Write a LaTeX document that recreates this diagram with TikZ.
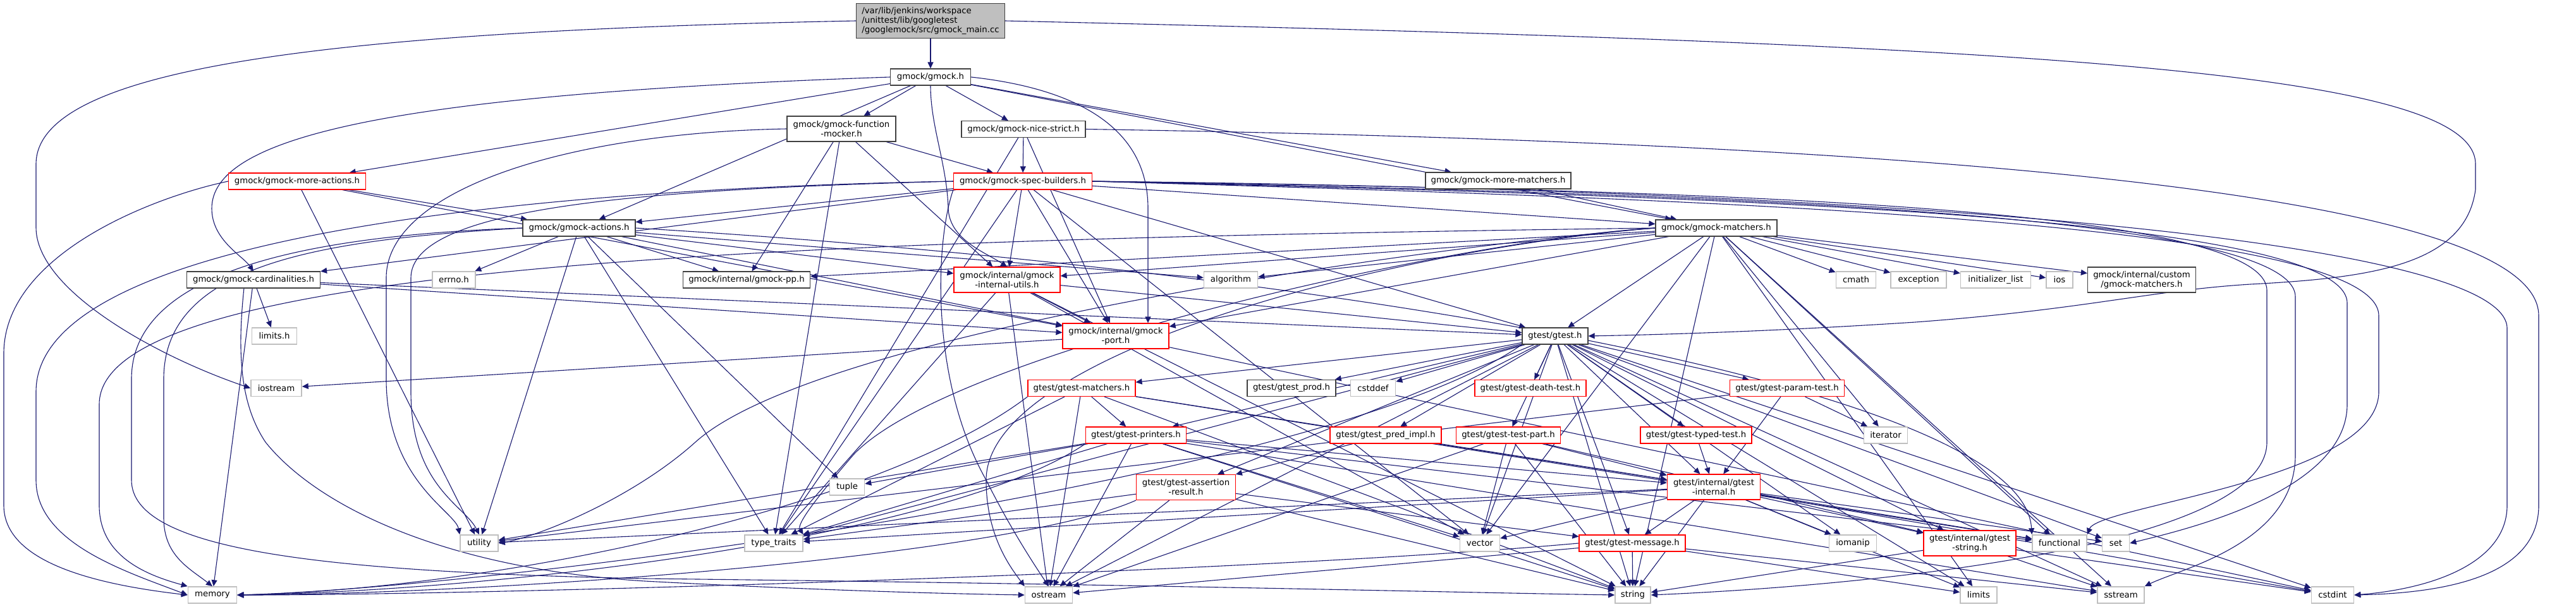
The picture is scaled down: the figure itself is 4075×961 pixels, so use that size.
\documentclass[tikz,border=0pt]{standalone}
\usepackage{fontspec}
\setmainfont{DejaVu Sans}
\usetikzlibrary{arrows.meta}
\definecolor{edgec}{HTML}{191970}
\definecolor{leafc}{HTML}{BFBFBF}
\definecolor{blkc}{HTML}{404040}
\definecolor{mainfill}{HTML}{BFBFBF}
\pgfdeclarelayer{bg}
\pgfsetlayers{bg,main}
\begin{document}
\begin{tikzpicture}[x=1pt,y=-1pt,
  nd/.style={fill=white, inner sep=0pt, minimum height=26pt, align=center,
             font=\fontsize{13.3}{15}\selectfont, line width=1.2pt},
  bnd/.style={nd, draw=blkc},
  rnd/.style={nd, draw=red},
  lnd/.style={nd, draw=leafc, line width=1.6pt},
  two/.style={minimum height=40pt},
  dep/.style={draw=edgec, line width=1.1pt, -{Triangle[length=10pt,width=9pt]}}]
\useasboundingbox (0,0) rectangle (4075,961);
% nodes
\node[bnd, fill=mainfill, align=left, minimum width=235pt, minimum height=55pt] (M) at (1472,33)
  {/var/lib/jenkins/workspace\\/unittest/lib/googletest\\/googlemock/src/gmock\_main.cc};
\node[bnd, minimum width=127pt] (G) at (1472,122) {gmock/gmock.h};
\node[bnd, two, minimum width=172pt] (FM) at (1331,204) {gmock/gmock-function\\-mocker.h};
\node[bnd, minimum width=196pt] (NS) at (1619,204.5) {gmock/gmock-nice-strict.h};
\node[rnd, minimum width=217pt] (MA) at (470,287) {gmock/gmock-more-actions.h};
\node[rnd, minimum width=219pt] (SB) at (1618,287) {gmock/gmock-spec-builders.h};
\node[bnd, minimum width=230pt] (MM) at (2370,286) {gmock/gmock-more-matchers.h};
\node[bnd, minimum width=178pt] (ACT) at (916,361) {gmock/gmock-actions.h};
\node[bnd, minimum width=192pt] (MAT) at (2715,361) {gmock/gmock-matchers.h};
\node[bnd, minimum width=211pt] (CARD) at (401,443) {gmock/gmock-cardinalities.h};
\node[lnd, minimum width=68pt] (ERRNO) at (718,443) {errno.h};
\node[bnd, minimum width=201pt] (PP) at (1181,443) {gmock/internal/gmock-pp.h};
\node[rnd, two, minimum width=168pt] (IU) at (1593,443) {gmock/internal/gmock\\-internal-utils.h};
\node[lnd, minimum width=85pt] (ALG) at (1947,443) {algorithm};
\node[lnd, minimum width=63pt] (CMATH) at (2936,443) {cmath};
\node[lnd, minimum width=88pt] (EXC) at (3035,443) {exception};
\node[lnd, minimum width=111pt] (INIT) at (3157,443) {initializer\_list};
\node[lnd, minimum width=42pt] (IOS) at (3258,443) {ios};
\node[bnd, two, minimum width=171pt] (CUSTOM) at (3388,443) {gmock/internal/custom\\/gmock-matchers.h};
\node[lnd, minimum width=71pt] (LIMH) at (434,532) {limits.h};
\node[rnd, two, minimum width=168pt] (PORT) at (1765,532) {gmock/internal/gmock\\-port.h};
\node[bnd, minimum width=104pt] (GT) at (2460,532) {gtest/gtest.h};
\node[lnd, minimum width=80pt] (IOSTREAM) at (437,614.5) {iostream};
\node[rnd, minimum width=170pt] (GTM) at (1711,614.5) {gtest/gtest-matchers.h};
\node[bnd, minimum width=140pt] (PROD) at (2043,614.5) {gtest/gtest\_prod.h};
\node[lnd, minimum width=71pt] (CSTDDEF) at (2172,614.5) {cstddef};
\node[rnd, minimum width=176pt] (DEATH) at (2421,614.5) {gtest/gtest-death-test.h};
\node[rnd, minimum width=181pt] (PARAM) at (2827,614.5) {gtest/gtest-param-test.h};
\node[rnd, minimum width=159pt] (PRINT) at (1797,689) {gtest/gtest-printers.h};
\node[rnd, minimum width=176pt] (PRED) at (2192,689) {gtest/gtest\_pred\_impl.h};
\node[rnd, minimum width=165pt] (TP) at (2386,689) {gtest/gtest-test-part.h};
\node[rnd, minimum width=176pt] (TYPED) at (2683,689) {gtest/gtest-typed-test.h};
\node[lnd, minimum width=69pt] (ITER) at (2983,689) {iterator};
\node[lnd, minimum width=55pt] (TUPLE) at (1340,771) {tuple};
\node[rnd, two, minimum width=157pt] (AR) at (1876,771.5) {gtest/gtest-assertion\\-result.h};
\node[rnd, two, minimum width=147pt] (GI) at (2711,771) {gtest/internal/gtest\\-internal.h};
\node[lnd, minimum width=60pt] (UTIL) at (758,860) {utility};
\node[lnd, minimum width=92pt] (TT) at (1224,860) {type\_traits};
\node[lnd, minimum width=63pt] (VEC) at (2341,860) {vector};
\node[rnd, minimum width=168pt] (MSG) at (2582,860) {gtest/gtest-message.h};
\node[lnd, minimum width=75pt] (IOMANIP) at (2931,860) {iomanip};
\node[rnd, two, minimum width=146pt] (GS) at (3116,860) {gtest/internal/gtest\\-string.h};
\node[lnd, minimum width=86pt] (FUNC) at (3258,860) {functional};
\node[lnd, minimum width=43pt] (SET) at (3347,860) {set};
\node[lnd, minimum width=77pt] (MEM) at (336,942) {memory};
\node[lnd, minimum width=75pt] (OSTREAM) at (1659,942) {ostream};
\node[lnd, minimum width=56pt] (STR) at (2583,942) {string};
\node[lnd, minimum width=58pt] (LIMITS) at (3130,942) {limits};
\node[lnd, minimum width=74pt] (SSTREAM) at (3355,942) {sstream};
\node[lnd, minimum width=67pt] (CSTDINT) at (3690,942) {cstdint};
% edges
\begin{pgfonlayer}{bg}
% main
\draw[dep] (M) -- (G);
\draw[dep] (M.west) .. controls (500,50) and (57,110) .. (57,260) -- (57,360)
   .. controls (57,460) and (250,565) .. (IOSTREAM.west);
\draw[dep] (M.east) .. controls (3200,70) and (3916,110) .. (3916,260) -- (3916,300)
   .. controls (3900,420) and (3750,440) .. (3560,450)
   .. controls (3400,460) and (3300,490) .. (3030,510)
   .. controls (2800,525) and (2620,530) .. (GT.east);
% gmock.h
\foreach \t in {ACT,MAT,MA,MM,NS,FM} \draw[dep] (G) -- (\t);
\draw[dep] (G.west) .. controls (600,150) and (335,220) .. (335,330)
   .. controls (335,380) and (384,405) .. (CARD.north);
\draw[dep] (G.south) .. controls (1472,200) and (1498,260) .. (1500,330)
   .. controls (1502,380) and (1560,400) .. (IU.north);
\draw[dep] (G.east) .. controls (1700,140) and (1816,200) .. (1816,330) -- (PORT.north -| 1816,0);
% function-mocker
\foreach \t in {TT,SB,IU,PP} \draw[dep] (FM) -- (\t);
\draw[dep] (FM.west) .. controls (900,210) and (611,300) .. (611,440) -- (611,600)
   .. controls (611,760) and (720,810) .. (UTIL.north west);
% nice-strict
\foreach \t in {TT,SB,PORT} \draw[dep] (NS) -- (\t);
\draw[dep] (NS.east) .. controls (3000,225) and (4016,300) .. (4016,500) -- (4016,800)
   .. controls (4016,900) and (3900,938) .. (CSTDINT.east);
% more-actions
\foreach \t in {UTIL,ACT,PORT} \draw[dep] (MA) -- (\t);
\draw[dep] (MA.west) .. controls (250,310) and (6,400) .. (6,560) -- (6,800)
   .. controls (6,890) and (150,925) .. (MEM.west);
% spec-builders
\foreach \t in {VEC,ACT,CARD,MAT,IU,PORT,GT,TT} \draw[dep] (SB) -- (\t);
\draw[dep] (SB.south west) .. controls (1480,380) and (1470,600) .. (1560,760)
   .. controls (1600,840) and (1640,900) .. (OSTREAM.north);
\draw[dep] (SB.west) .. controls (1000,300) and (650,330) .. (650,440) -- (650,620)
   .. controls (650,770) and (735,800) .. (UTIL.north);
\draw[dep] (SB.west) .. controls (800,300) and (57,380) .. (57,620) -- (57,760)
   .. controls (57,860) and (200,905) .. (MEM.west);
\draw[dep] (SB.east) .. controls (3000,300) and (3966,380) .. (3966,520) -- (3966,800)
   .. controls (3966,890) and (3850,932) .. (CSTDINT.east);
\draw[dep] (SB.east) .. controls (2600,300) and (3586,320) .. (3586,460) -- (3586,700)
   .. controls (3586,860) and (3000,925) .. (STR.east);
\draw[dep] (SB.east) .. controls (2600,305) and (3631,330) .. (3631,470) -- (3631,720)
   .. controls (3631,860) and (3450,900) .. (SSTREAM.north east);
\draw[dep] (SB.east) .. controls (2700,310) and (3713,340) .. (3713,480) -- (3713,640)
   .. controls (3713,780) and (3450,840) .. (SET.east);
\draw[dep] (SB.east) .. controls (2700,315) and (3763,350) .. (3763,500) -- (3763,620)
   .. controls (3763,760) and (3320,800) .. (FUNC.north east);
% more-matchers
\draw[dep] (MM) -- (MAT);
% actions
\foreach \t in {ERRNO,ALG,TUPLE,TT,UTIL,IU,PORT,PP} \draw[dep] (ACT) -- (\t);
\draw[dep] (ACT.east) .. controls (2000,420) and (3200,600) .. (FUNC.north west);
\draw[dep] (ACT.west) .. controls (500,380) and (259,420) .. (259,600) -- (259,820)
   .. controls (259,880) and (300,900) .. (MEM.north);
\draw[dep] (ACT.west) .. controls (420,375) and (208,450) .. (208,600) -- (208,760)
   .. controls (208,870) and (500,905) .. (1020,916)
   .. controls (1800,925) and (2300,938) .. (STR.west);
% cardinalities
\foreach \t in {LIMH,MEM,PORT,GT} \draw[dep] (CARD) -- (\t);
\draw[dep] (386,456) .. controls (375,560) and (380,640) .. (420,700)
   .. controls (500,800) and (700,900) .. (1020,920)
   .. controls (1300,935) and (1500,940) .. (OSTREAM.west);
% matchers
\foreach \t in {ALG,CMATH,EXC,FUNC,INIT,IOS,ITER,LIMITS,SSTREAM,STR,VEC,IU,PORT,PP,GT,CUSTOM} \draw[dep] (MAT) -- (\t);
\draw[dep] (MAT.west) .. controls (2300,380) and (1500,560) .. (1350,720)
   .. controls (1290,790) and (1260,830) .. (TT.north east);
\draw[dep] (MAT.west) .. controls (2300,385) and (1300,520) .. (1100,700)
   .. controls (1000,790) and (850,850) .. (UTIL.east);
\draw[dep] (MAT.west) .. controls (2200,395) and (1560,560) .. (1560,760)
   .. controls (1560,850) and (1600,900) .. (OSTREAM.north west);
\draw[dep] (MAT.west) .. controls (1200,380) and (157,420) .. (157,640) -- (157,800)
   .. controls (157,880) and (230,910) .. (MEM.north west);
% internal-utils
\foreach \t in {OSTREAM,STR,TT,VEC,PORT,GT} \draw[dep] (IU) -- (\t);
% port
\foreach \t in {IOSTREAM,CSTDINT} \draw[dep] (PORT) -- (\t);
% gtest.h
\foreach \t in {CSTDDEF,CSTDINT,IOMANIP,LIMITS,OSTREAM,SET,SSTREAM,STR,TT,VEC,AR,DEATH,GTM,MSG,PARAM,PRINT,TP,TYPED,PRED,PROD,GI,GS} \draw[dep] (GT) -- (\t);
\draw[dep] (GT.south west) .. controls (2100,760) and (800,930) .. (MEM.east);
% gtest-matchers
\foreach \t in {FUNC,OSTREAM,STR,TT,PRINT,GI} \draw[dep] (GTM) -- (\t);
\draw[dep] (GTM.south west) .. controls (1400,800) and (800,932) .. (MEM.east);
% printers
\foreach \t in {FUNC,OSTREAM,SSTREAM,STR,TUPLE,TT,UTIL,VEC,GI} \draw[dep] (PRINT) -- (\t);
\draw[dep] (PRINT.south west) .. controls (1500,850) and (800,935) .. (MEM.east);
\foreach \t in {AR,GI} \draw[dep] (PRED) -- (\t);
\foreach \t in {OSTREAM,STR,VEC,GI,GS} \draw[dep] (TP) -- (\t);
\draw[dep] (TYPED) -- (GI);
\foreach \t in {ITER,UTIL,GI} \draw[dep] (PARAM) -- (\t);
% assertion-result
\foreach \t in {OSTREAM,STR,TT,MSG} \draw[dep] (AR) -- (\t);
\draw[dep] (AR.south west) .. controls (1600,880) and (800,940) .. (MEM.east);
\foreach \t in {CSTDINT,FUNC,IOMANIP,LIMITS,SET,STR,TT,UTIL,VEC,MSG,GS} \draw[dep] (GI) -- (\t);
% message
\foreach \t in {LIMITS,OSTREAM,SSTREAM,STR} \draw[dep] (MSG) -- (\t);
\draw[dep] (MSG.west) .. controls (2000,905) and (800,942) .. (MEM.east);
\foreach \t in {CSTDINT,SSTREAM,STR} \draw[dep] (GS) -- (\t);
\end{pgfonlayer}
\end{tikzpicture}
\end{document}
